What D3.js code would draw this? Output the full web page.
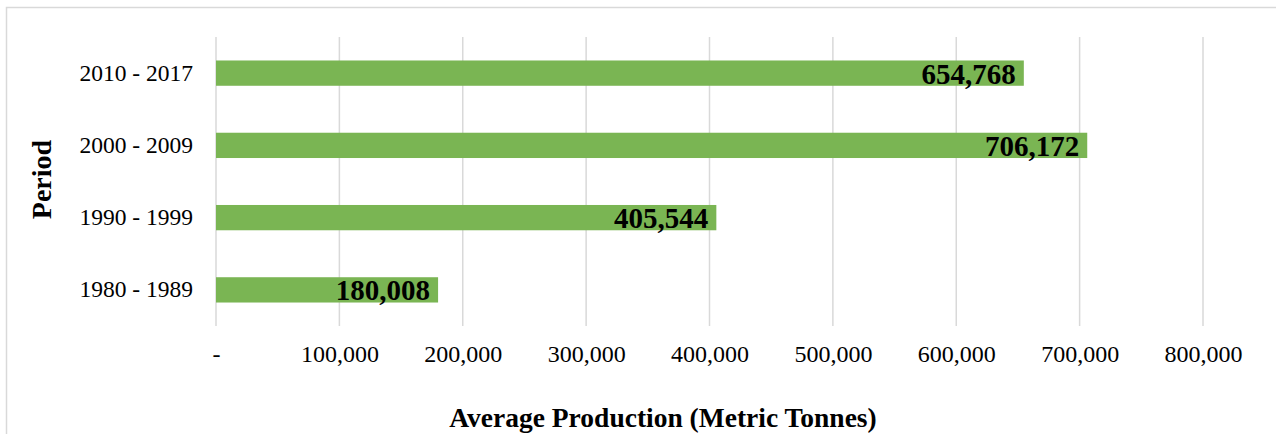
<!DOCTYPE html>
<html><head><meta charset="utf-8">
<script src="https://cdn.jsdelivr.net/npm/d3@7"></script>
<style>
html,body{margin:0;padding:0;background:#fff;}
svg{display:block;font-family:"Liberation Serif","Times New Roman",serif;}
</style></head>
<body><svg id="c" width="1276" height="434"></svg>
<script>
const periods = ["2010 - 2017", "2000 - 2009", "1990 - 1999", "1980 - 1989"];
const production = [654768, 706172, 405544, 180008];
const xTicks = [0, 100000, 200000, 300000, 400000, 500000, 600000, 700000, 800000];
const xTitle = "Average Production (Metric Tonnes)";
const yTitle = "Period";

const svg = d3.select("#c");
const W = 1276, H = 434;
const m = {left: 216, right: 73, top: 37, bottom: 108};

// chart frame border
svg.append("rect").attr("x", 6.5).attr("y", 7.5).attr("width", W).attr("height", H)
  .attr("fill", "none").attr("stroke", "#d9d9d9").attr("stroke-width", 1.5);

const x = d3.scaleLinear().domain([0, 800000]).range([m.left, W - m.right]);
const y = d3.scaleBand().domain(periods).range([m.top, H - m.bottom])
  .paddingInner(0.65).paddingOuter(0.325);

// gridlines
svg.append("g").selectAll("line").data(xTicks).join("line")
  .attr("x1", d => x(d)).attr("x2", d => x(d))
  .attr("y1", m.top).attr("y2", H - m.bottom)
  .attr("stroke", "#d9d9d9").attr("stroke-width", 1.5);

// x axis labels
const xAxis = d3.axisBottom(x).tickValues(xTicks).tickSize(0).tickPadding(0)
  .tickFormat(d => d === 0 ? "-" : d3.format(",")(d));
const gx = svg.append("g").attr("transform", `translate(0,${H - m.bottom + 19})`).call(xAxis);
gx.select(".domain").remove();
gx.selectAll("text").attr("font-size", 24).attr("fill", "#000")
  .attr("font-family", "Liberation Serif");

// y axis labels
const yAxis = d3.axisLeft(y).tickSize(0).tickPadding(23);
const gy = svg.append("g").attr("transform", `translate(${m.left},0)`).call(yAxis);
gy.select(".domain").remove();
gy.selectAll("text").attr("font-size", 23.5).attr("fill", "#000")
  .attr("font-family", "Liberation Serif");

// bars
svg.append("g").selectAll("rect").data(periods).join("rect")
  .attr("x", x(0)).attr("y", d => y(d))
  .attr("width", (d, i) => x(production[i]) - x(0))
  .attr("height", y.bandwidth())
  .attr("fill", "#7ab553");

// value labels
svg.append("g").selectAll("text").data(periods).join("text")
  .attr("x", (d, i) => x(production[i]) - 8)
  .attr("y", d => y(d) + y.bandwidth() / 2)
  .attr("dy", "0.36em")
  .attr("text-anchor", "end")
  .attr("font-size", 29).attr("font-weight", "bold").attr("fill", "#000")
  .text((d, i) => d3.format(",")(production[i]));

// axis titles
svg.append("text").attr("x", 663).attr("y", 427)
  .attr("text-anchor", "middle").attr("font-size", 27.5).attr("font-weight", "bold")
  .text(xTitle);
svg.append("text").attr("transform", `translate(51,${(m.top + H - m.bottom) / 2 - 2}) rotate(-90)`)
  .attr("text-anchor", "middle").attr("font-size", 28).attr("font-weight", "bold")
  .text(yTitle);
</script></body></html>
